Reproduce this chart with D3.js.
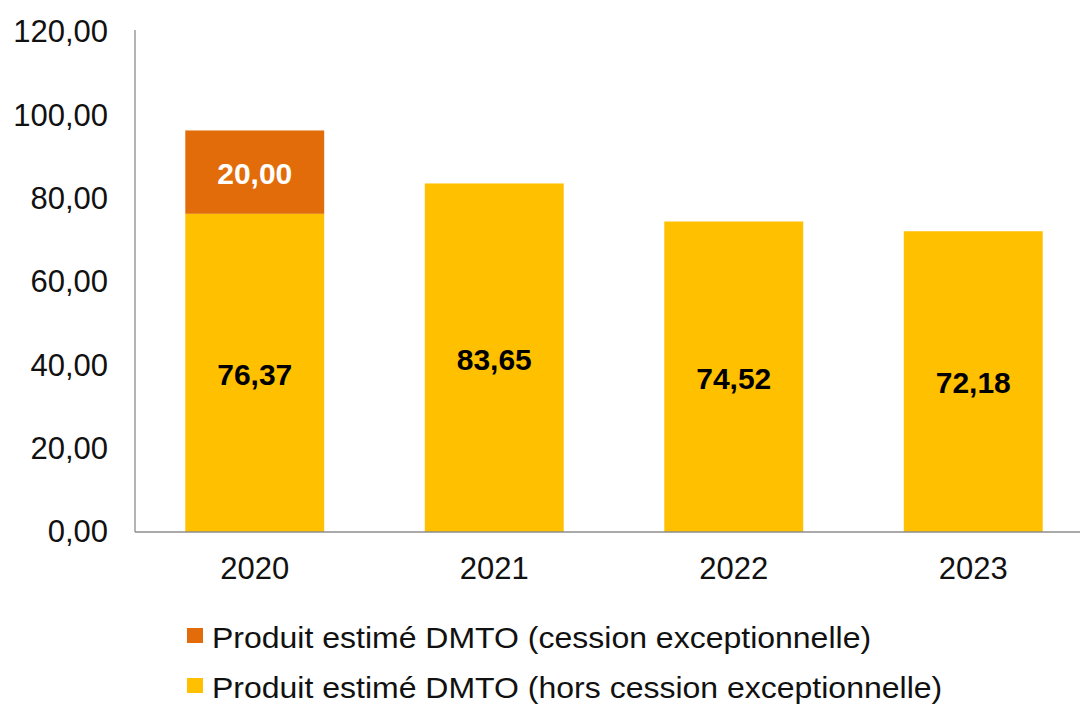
<!DOCTYPE html>
<html>
<head>
<meta charset="utf-8">
<script src="https://cdn.jsdelivr.net/npm/d3@7"></script>
<style>
  html, body { margin: 0; padding: 0; background: #fff; }
  svg { display: block; font-family: "Liberation Sans", Arial, sans-serif; }
</style>
</head>
<body>
<svg id="chart" width="1080" height="706"></svg>
<script>
// Years and DMTO revenue estimates (M€)
const years = ["2020", "2021", "2022", "2023"];
const horsCession = [76.37, 83.65, 74.52, 72.18];
const cession = [20.00, 0, 0, 0];
const yTicks = [0, 20, 40, 60, 80, 100, 120];
const seriesNames = [
  "Produit estimé DMTO (cession exceptionnelle)",
  "Produit estimé DMTO (hors cession exceptionnelle)"
];
const colors = { hors: "#FFC000", cession: "#E36C0A" };

const svg = d3.select("#chart");
const margin = { left: 135, top: 32, bottom: 532 };
const plotRight = 1093;

const fmt = v => d3.format(".2f")(v).replace(".", ",");

const x = d3.scaleBand().domain(years).range([margin.left, plotRight]).paddingInner(0.42).paddingOuter(0.21);
const y = d3.scaleLinear().domain([0, 120]).range([margin.bottom, margin.top]);

const rows = years.map((yr, i) => ({ year: yr, hors: horsCession[i], cession: cession[i] }));
const stack = d3.stack().keys(["hors", "cession"])(rows);

// Bars
svg.append("g").selectAll("g")
  .data(stack)
  .join("g")
  .attr("fill", d => colors[d.key])
  .selectAll("rect")
  .data(d => d.filter(p => p[1] - p[0] > 0))
  .join("rect")
  .attr("x", d => x(d.data.year))
  .attr("width", x.bandwidth())
  .attr("y", d => y(d[1]))
  .attr("height", d => y(d[0]) - y(d[1]));

// Value labels
svg.append("g").selectAll("text")
  .data(stack.flatMap(s => s.filter(p => p[1] - p[0] > 0).map(p => ({ key: s.key, p }))))
  .join("text")
  .attr("x", d => x(d.p.data.year) + x.bandwidth() / 2)
  .attr("y", d => (y(d.p[0]) + y(d.p[1])) / 2 + 1)
  .attr("dy", "0.36em")
  .attr("text-anchor", "middle")
  .attr("font-size", 30)
  .attr("font-weight", "bold")
  .attr("fill", d => d.key === "cession" ? "#fff" : "#000")
  .text(d => fmt(d.p[1] - d.p[0]));

// Y axis
const yAxis = svg.append("g")
  .attr("transform", `translate(${margin.left},0)`)
  .call(d3.axisLeft(y).tickValues(yTicks).tickFormat(fmt).tickSize(0).tickPadding(27));
yAxis.select(".domain").attr("stroke", "#8c8c8c").attr("stroke-width", 1.3)
  .attr("d", `M0,${y(120) - 2}V${margin.bottom}`);
yAxis.selectAll("text").attr("font-size", 31).attr("fill", "#111")
  .attr("font-family", "Liberation Sans, Arial, sans-serif");

// X axis
const xAxis = svg.append("g")
  .attr("transform", `translate(0,${margin.bottom})`)
  .call(d3.axisBottom(x).tickSize(0).tickPadding(25));
xAxis.select(".domain").attr("stroke", "#8c8c8c").attr("stroke-width", 1.3)
  .attr("d", `M${margin.left},0H1080`);
xAxis.selectAll("text").attr("font-size", 31).attr("fill", "#111")
  .attr("font-family", "Liberation Sans, Arial, sans-serif");

// Legend
const legend = svg.append("g").attr("transform", "translate(187,0)");
const legendItems = [
  { name: seriesNames[0], color: colors.cession, y: 648 },
  { name: seriesNames[1], color: colors.hors, y: 698 }
];
const li = legend.selectAll("g").data(legendItems).join("g")
  .attr("transform", d => `translate(0,${d.y})`);
li.append("rect").attr("x", 0).attr("y", -20).attr("width", 16).attr("height", 15).attr("fill", d => d.color);
li.append("text").attr("x", 25).attr("font-size", 32).attr("fill", "#111")
  .attr("transform", "scale(1,0.95)")
  .text(d => d.name);
</script>
</body>
</html>
